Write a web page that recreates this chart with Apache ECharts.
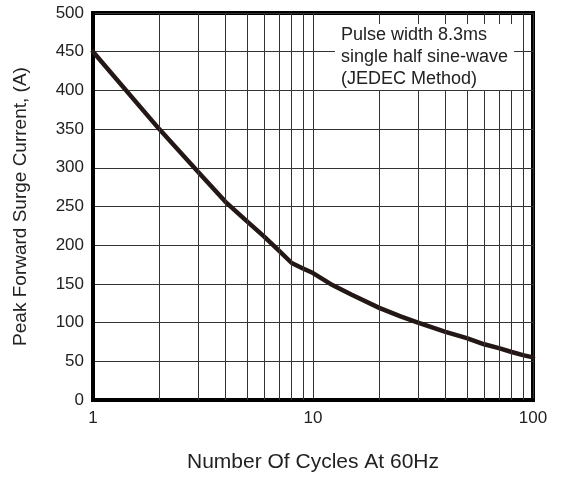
<!DOCTYPE html>
<html>
<head>
<meta charset="utf-8">
<script src="https://cdn.jsdelivr.net/npm/echarts@6/dist/echarts.min.js"></script>
<style>html,body{margin:0;padding:0;background:#fff}#c{width:566px;height:479px}</style>
</head>
<body>
<div id="c"></div>
<script>
var cycles = [1, 2, 3, 4, 5, 6, 7, 8, 9, 10, 12, 15, 20, 25, 30, 40, 50, 60, 70, 80, 90, 100];
var current = [450, 350, 295, 256, 231, 211, 193, 177, 170, 164, 150, 136, 119, 108, 100, 88, 80, 72, 67, 62, 58, 55];
var minorGridX = [2, 3, 4, 5, 6, 7, 8, 9, 20, 30, 40, 50, 60, 70, 80, 90];
var yTicks = { min: 0, max: 500, interval: 50 };
var noteText = 'Pulse width 8.3ms\nsingle half sine-wave\n(JEDEC Method)';
var xTitle = 'Number Of Cycles At 60Hz';
var yTitle = 'Peak Forward Surge Current, (A)';

var FONT = "'Liberation Sans', Arial, sans-serif";
var chart = echarts.init(document.getElementById('c'), null, { renderer: 'canvas' });
var points = cycles.map(function (c, i) { return [c, current[i]]; });

chart.setOption({
  animation: false,
  backgroundColor: '#fff',
  title: {
    text: noteText,
    left: 335,
    top: 24,
    padding: [0, 6, 0, 6],
    backgroundColor: '#fff',
    textStyle: { fontFamily: FONT, fontSize: 18, fontWeight: 'normal', color: '#222', lineHeight: 22 }
  },
  grid: {
    left: 93, right: 33, top: 13, bottom: 79,
    show: true, borderColor: '#000', borderWidth: 4, backgroundColor: 'transparent'
  },
  xAxis: {
    type: 'log', logBase: 10, min: 1, max: 100,
    name: xTitle, nameLocation: 'middle', nameGap: 52,
    nameTextStyle: { fontFamily: FONT, fontSize: 21, color: '#222' },
    axisLine: { show: true, lineStyle: { color: '#000', width: 4 } },
    axisTick: { show: false },
    axisLabel: { fontFamily: FONT, fontSize: 17, color: '#222', margin: 10 },
    splitLine: { show: true, lineStyle: { color: '#333', width: 1 } },
    minorTick: { show: false }, minorSplitLine: { show: false }
  },
  yAxis: {
    type: 'value', min: yTicks.min, max: yTicks.max, interval: yTicks.interval,
    name: yTitle, nameLocation: 'middle', nameGap: 63,
    nameTextStyle: { fontFamily: FONT, fontSize: 19, color: '#222' },
    axisLine: { show: true, lineStyle: { color: '#000', width: 4 } },
    axisTick: { show: false },
    axisLabel: { fontFamily: FONT, fontSize: 17, color: '#222', margin: 9 },
    splitLine: { show: true, lineStyle: { color: '#333', width: 1 } }
  },
  series: [
    {
      type: 'line', data: [], z: 1, silent: true,
      markLine: {
        silent: true, symbol: ['none', 'none'], animation: false,
        label: { show: false },
        lineStyle: { color: '#333', width: 1, type: 'solid' },
        emphasis: { disabled: true },
        data: minorGridX.map(function (v) { return { xAxis: v }; })
      }
    },
    {
      type: 'line', data: points, z: 3,
      showSymbol: false, smooth: false,
      lineStyle: { color: '#231815', width: 4.5, join: 'round', cap: 'round' }
    }
  ]
});
</script>
</body>
</html>
